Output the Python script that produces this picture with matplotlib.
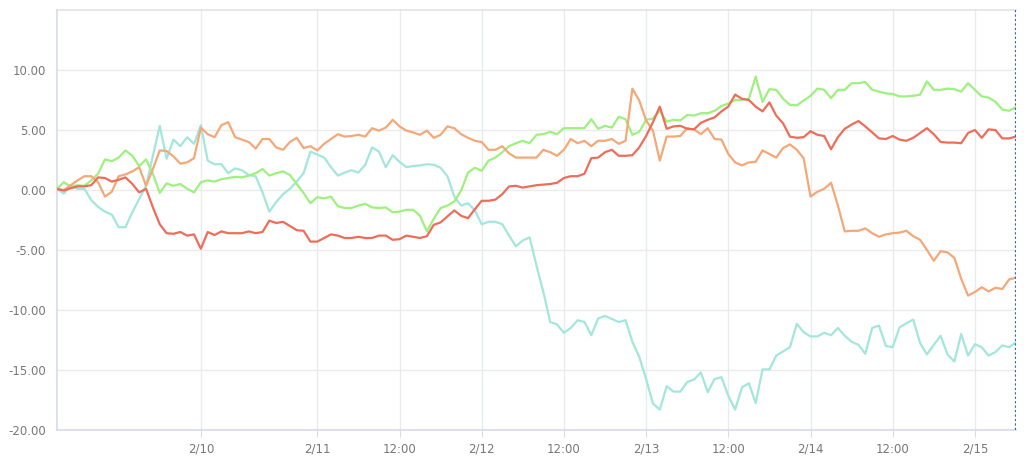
import numpy as np
import matplotlib
matplotlib.use("Agg")
import matplotlib.pyplot as plt

# hourly index positions where the date labels sit
tick_pos = [21, 38, 50, 62, 74, 86, 98, 110, 122, 134]
tick_labels = ["2/10", "2/11", "12:00", "2/12", "12:00", "2/13", "12:00", "2/14", "12:00", "2/15"]

red = [0.08, -0.05, 0.15, 0.3, 0.3, 0.4, 1.05, 1.0, 0.7, 0.85,
       1.05, 0.5, -0.2, 0.1, -1.45, -2.85, -3.6, -3.65, -3.5, -3.8,
       -3.7, -4.9, -3.5, -3.75, -3.45, -3.6, -3.6, -3.6, -3.45, -3.6,
       -3.5, -2.55, -2.75, -2.65, -3.0, -3.35, -3.4, -4.3, -4.3, -4.0,
       -3.7, -3.8, -4.0, -4.0, -3.9, -4.0, -4.0, -3.8, -3.8, -4.15,
       -4.1, -3.8, -3.9, -4.0, -3.85, -2.9, -2.7, -2.2, -1.7, -2.15,
       -2.35, -1.6, -0.9, -0.9, -0.8, -0.35, 0.3, 0.35, 0.2, 0.3,
       0.4, 0.45, 0.5, 0.6, 1.0, 1.15, 1.15, 1.35, 2.65, 2.7,
       3.15, 3.35, 2.85, 2.85, 2.9, 3.55, 4.5, 5.65, 6.95, 5.1,
       5.3, 5.35, 5.1, 5.05, 5.6, 5.85, 6.05, 6.55, 6.95, 7.95,
       7.6, 7.5, 6.95, 6.55, 7.3, 6.2, 5.55, 4.45, 4.35, 4.4,
       4.9, 4.6, 4.5, 3.4, 4.4, 5.1, 5.45, 5.75, 5.3, 4.8,
       4.3, 4.25, 4.5, 4.2, 4.1, 4.35, 4.75, 5.15, 4.65, 4.0,
       3.95, 3.95, 3.9, 4.75, 5.0, 4.35, 5.05, 5.0, 4.3, 4.3,
       4.45]

orange = [0.1, 0.0, 0.4, 0.8, 1.15, 1.15, 0.65, -0.55, -0.15, 1.15,
          1.3, 1.55, 1.9, 0.35, 1.75, 3.3, 3.25, 2.8, 2.2, 2.3,
          2.65, 5.2, 4.65, 4.4, 5.4, 5.65, 4.4, 4.2, 4.0, 3.45,
          4.25, 4.25, 3.55, 3.35, 4.0, 4.35, 3.5, 3.65, 3.3, 3.85,
          4.25, 4.65, 4.45, 4.5, 4.6, 4.45, 5.15, 4.95, 5.2, 5.85,
          5.3, 4.95, 4.8, 4.6, 4.95, 4.35, 4.6, 5.3, 5.15, 4.65,
          4.35, 4.1, 4.0, 3.35, 3.35, 3.65, 3.05, 2.7, 2.7, 2.7,
          2.7, 3.35, 3.15, 2.85, 3.35, 4.25, 3.9, 4.1, 3.65, 4.1,
          4.1, 4.25, 3.85, 4.1, 8.45, 7.45, 5.8, 4.95, 2.45, 4.45,
          4.45, 4.5, 5.15, 5.05, 4.65, 5.15, 4.25, 4.2, 3.0, 2.3,
          2.05, 2.3, 2.35, 3.3, 3.0, 2.7, 3.5, 3.8, 3.35, 2.65,
          -0.55, -0.15, 0.1, 0.6, -1.3, -3.45, -3.4, -3.4, -3.2, -3.6,
          -3.9, -3.7, -3.6, -3.55, -3.4, -3.85, -4.15, -5.0, -5.9, -5.1,
          -5.2, -5.65, -7.4, -8.8, -8.5, -8.1, -8.45, -8.15, -8.25, -7.45,
          -7.3]

green = [0.1, 0.65, 0.3, 0.4, 0.35, 0.8, 1.35, 2.55, 2.4, 2.7,
         3.3, 2.85, 2.0, 2.55, 1.35, -0.25, 0.55, 0.35, 0.5, 0.1,
         -0.2, 0.65, 0.8, 0.7, 0.9, 1.0, 1.1, 1.05, 1.2, 1.4,
         1.75, 1.2, 1.4, 1.55, 1.25, 0.5, -0.25, -1.1, -0.6, -0.7,
         -0.55, -1.35, -1.5, -1.5, -1.3, -1.15, -1.45, -1.5, -1.45, -1.85,
         -1.8, -1.65, -1.65, -2.15, -3.45, -2.4, -1.5, -1.3, -0.95, -0.05,
         1.45, 1.85, 1.6, 2.45, 2.7, 3.15, 3.65, 3.9, 4.1, 3.9,
         4.6, 4.65, 4.85, 4.65, 5.15, 5.15, 5.15, 5.15, 5.9, 5.1,
         5.35, 5.2, 6.1, 5.9, 4.6, 4.85, 5.85, 5.95, 6.6, 5.7,
         5.85, 5.8, 6.25, 6.2, 6.4, 6.4, 6.6, 7.0, 7.2, 7.5,
         7.5, 7.6, 9.45, 7.35, 8.4, 8.35, 7.6, 7.1, 7.05, 7.45,
         7.85, 8.45, 8.35, 7.65, 8.35, 8.35, 8.9, 8.9, 9.0, 8.35,
         8.2, 8.05, 8.0, 7.8, 7.8, 7.85, 7.95, 9.05, 8.35, 8.35,
         8.45, 8.4, 8.2, 8.9, 8.35, 7.8, 7.7, 7.35, 6.7, 6.6,
         6.9]

cyan = [0.1, -0.3, 0.35, 0.1, 0.1, -0.85, -1.4, -1.8, -2.05, -3.1,
        -3.1, -1.85, -0.75, 0.35, 2.85, 5.35, 2.6, 4.2, 3.65, 4.4,
        3.85, 5.4, 2.45, 2.15, 2.15, 1.4, 1.8, 1.65, 1.25, 1.15,
        -0.2, -1.8, -1.0, -0.35, 0.1, 0.7, 1.4, 3.2, 2.95, 2.7,
        1.9, 1.2, 1.45, 1.65, 1.45, 2.1, 3.55, 3.2, 1.9, 2.9,
        2.35, 1.9, 2.0, 2.05, 2.15, 2.1, 1.85, 1.15, -0.55, -1.3,
        -1.1, -1.7, -2.85, -2.65, -2.65, -2.85, -3.8, -4.7, -4.2, -3.95,
        -6.3, -8.5, -11.0, -11.2, -11.9, -11.5, -10.85, -11.0, -12.1, -10.7,
        -10.5, -10.75, -11.0, -10.85, -12.65, -13.9, -15.75, -17.8, -18.3, -16.35,
        -16.8, -16.8, -16.0, -15.8, -15.2, -16.85, -15.75, -15.6, -17.15, -18.3,
        -16.45, -16.1, -17.75, -14.95, -14.95, -13.8, -13.45, -13.1, -11.15, -11.85,
        -12.2, -12.2, -11.9, -12.1, -11.5, -12.15, -12.65, -12.9, -13.65, -11.5,
        -11.3, -13.0, -13.1, -11.45, -11.1, -10.8, -12.75, -13.7, -12.9, -12.15,
        -13.7, -14.3, -12.0, -13.8, -12.85, -13.1, -13.8, -13.5, -12.95, -13.1,
        -12.7]

x = np.arange(len(red))

fig = plt.figure(figsize=(10.24, 4.65), dpi=100)
ax = fig.add_axes([57 / 1024, 1 - 430 / 465, 959 / 1024, 420 / 465])

ax.plot(x, cyan, color="#a2e6dc", lw=1.6, zorder=3)
ax.plot(x, orange, color="#f4a878", lw=1.6, zorder=4)
ax.plot(x, green, color="#9ef07f", lw=1.6, zorder=3)
ax.plot(x, red, color="#ee6d5a", lw=1.6, zorder=5)

ax.set_xlim(0, 140)
ax.set_ylim(-20, 15)
ax.set_yticks([-20, -15, -10, -5, 0, 5, 10])
ax.set_yticklabels(["-20.00", "-15.00", "-10.00", "-5.00", "0.00", "5.00", "10.00"])
ax.set_xticks(tick_pos)
ax.set_xticklabels(tick_labels)

ax.grid(axis="y", color="#ebebeb", lw=1)
ax.axhline(15, color="#e3e3e3", lw=1.2, clip_on=False, zorder=1)
for p in tick_pos:
    ax.axvline(p, color="#e6ecee", lw=1, zorder=0)
ax.axvline(140, color="#2f63d0", lw=1.6, ls=(0, (1, 1)), zorder=6)

for s in ["top", "right"]:
    ax.spines[s].set_visible(False)
ax.spines["left"].set_color("#d5dcea")
ax.spines["bottom"].set_color("#d5dcea")
ax.spines["left"].set_linewidth(1.2)
ax.spines["bottom"].set_linewidth(1.2)

ax.tick_params(axis="y", length=0, pad=8, labelsize=8.5, labelcolor="#777777")
ax.tick_params(axis="x", length=5, color="#d5dcea", pad=4, labelsize=8.5, labelcolor="#777777")

fig.savefig("out.png", dpi=100)
